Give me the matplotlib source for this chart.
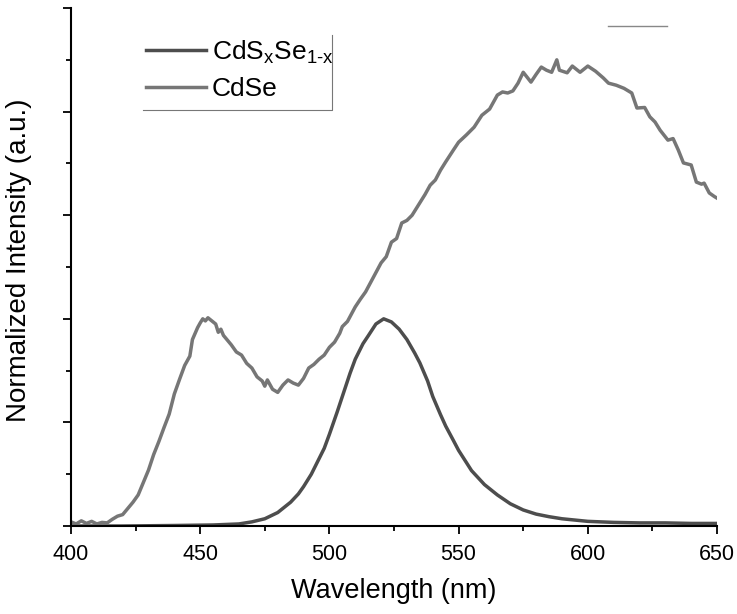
import matplotlib
matplotlib.use("Agg")
import matplotlib.pyplot as plt
from matplotlib.lines import Line2D
from matplotlib.ticker import MultipleLocator

plt.rcParams['font.family'] = ['Liberation Sans', 'DejaVu Sans']

# CdSxSe1-x emission (dark trace)
wl_alloy = [400, 420, 440, 455, 465, 470, 475, 480, 485, 488, 490, 493, 495, 498,
            500, 503, 505, 508, 510, 513, 515, 518, 521, 524, 527, 530, 533, 535,
            538, 540, 543, 545, 548, 550, 555, 560, 565, 570, 575, 580, 585, 590,
            600, 610, 620, 630, 640, 650]
int_alloy = [0.0, 0.0, 0.001, 0.002, 0.004, 0.008, 0.014, 0.026, 0.046, 0.062, 0.076,
             0.100, 0.120, 0.150, 0.177, 0.220, 0.250, 0.295, 0.322, 0.352, 0.367,
             0.390, 0.400, 0.394, 0.380, 0.360, 0.334, 0.315, 0.280, 0.250, 0.215,
             0.193, 0.165, 0.146, 0.107, 0.080, 0.060, 0.043, 0.031, 0.023, 0.018,
             0.014, 0.009, 0.007, 0.006, 0.006, 0.005, 0.005]

# CdSe emission (light trace)
wl_cdse = [400, 402, 404, 406, 408, 410, 412, 414, 416, 418, 420, 422, 424, 426,
           428, 430, 432, 434, 436, 438, 440, 442, 444, 446, 447, 449, 450, 451,
           452, 453, 454, 455, 456, 457, 458, 459, 460, 462, 464, 466, 468, 470,
           472, 474, 475, 476, 478, 480, 482, 484, 486, 488, 490, 492, 494, 496,
           498, 500, 502, 504, 505, 507, 510, 512, 514, 517, 520, 522, 524, 526,
           528, 530, 532, 535, 537, 539, 541, 543, 545, 548, 550, 553, 556, 559,
           562, 565, 567, 569, 571, 573, 575, 578, 580, 582, 584, 586, 588, 589,
           592, 594, 597, 600, 603, 606, 608, 611, 614, 617, 619, 622, 624, 626,
           628, 631, 633, 635, 637, 640, 642, 644, 645, 647, 649, 650]
int_cdse = [0.008, 0.004, 0.010, 0.005, 0.009, 0.004, 0.007, 0.006, 0.013, 0.019,
            0.022, 0.034, 0.046, 0.060, 0.084, 0.108, 0.138, 0.163, 0.190, 0.216,
            0.255, 0.283, 0.310, 0.328, 0.360, 0.383, 0.392, 0.400, 0.396, 0.402,
            0.398, 0.394, 0.390, 0.374, 0.380, 0.368, 0.362, 0.350, 0.336, 0.330,
            0.314, 0.305, 0.288, 0.280, 0.270, 0.282, 0.264, 0.258, 0.272, 0.282,
            0.276, 0.272, 0.285, 0.305, 0.312, 0.322, 0.330, 0.345, 0.355, 0.372,
            0.385, 0.395, 0.423, 0.438, 0.452, 0.480, 0.508, 0.520, 0.548, 0.555,
            0.585, 0.590, 0.600, 0.624, 0.640, 0.658, 0.668, 0.687, 0.703, 0.726,
            0.741, 0.755, 0.770, 0.793, 0.805, 0.832, 0.838, 0.836, 0.840, 0.855,
            0.876, 0.857, 0.872, 0.886, 0.880, 0.876, 0.900, 0.880, 0.875, 0.888,
            0.876, 0.888, 0.878, 0.865, 0.855, 0.851, 0.845, 0.836, 0.807, 0.808,
            0.790, 0.780, 0.764, 0.745, 0.748, 0.726, 0.701, 0.697, 0.664, 0.660,
            0.662, 0.643, 0.636, 0.633]

fig = plt.figure(figsize=(7.37, 6.14), dpi=100)
ax = fig.add_axes([0.0963, 0.1433, 0.8766, 0.8436])

ax.plot(wl_alloy, int_alloy, color='#4d4d4d', lw=2.5,
        label='CdS$_\\mathregular{x}$Se$_\\mathregular{1\u2010x}$')
ax.plot(wl_cdse, int_cdse, color='#767676', lw=2.5, label='CdSe')

ax.set_xlim(400, 650)
ax.set_ylim(0, 1.0)
ax.xaxis.set_major_locator(MultipleLocator(50))
ax.xaxis.set_minor_locator(MultipleLocator(25))
ax.yaxis.set_major_locator(MultipleLocator(0.2))
ax.yaxis.set_minor_locator(MultipleLocator(0.1))
ax.set_yticklabels([])

for s in ['top', 'right']:
    ax.spines[s].set_visible(False)
for s in ['left', 'bottom']:
    ax.spines[s].set_linewidth(1.5)
ax.tick_params(which='major', direction='out', length=6, width=1.3, labelsize=15.5, pad=7)
ax.tick_params(which='minor', direction='out', length=3.5, width=1.3)

ax.set_xlabel('Wavelength (nm)', fontsize=19.5)
ax.set_ylabel('Normalized Intensity (a.u.)', fontsize=20)
ax.xaxis.set_label_coords(0.5, -0.100)
ax.yaxis.set_label_coords(-0.060, 0.514)

ax.legend(loc='upper left', bbox_to_anchor=(0.1, 0.962), frameon=False, fontsize=19,
          handlelength=2.25, handletextpad=0.25, labelspacing=0.42, borderaxespad=0)

# partial legend frame (right and bottom edges)
ax.plot([0.111, 0.404, 0.404], [0.803, 0.803, 0.948], transform=ax.transAxes,
        color='#777777', lw=0.8, clip_on=False)
# stray short line at top right
fig.add_artist(Line2D([608 / 737, 667 / 737], [1 - 26 / 614, 1 - 26 / 614],
                      color='#888888', lw=1.0))

fig.savefig('out.png', dpi=100)
